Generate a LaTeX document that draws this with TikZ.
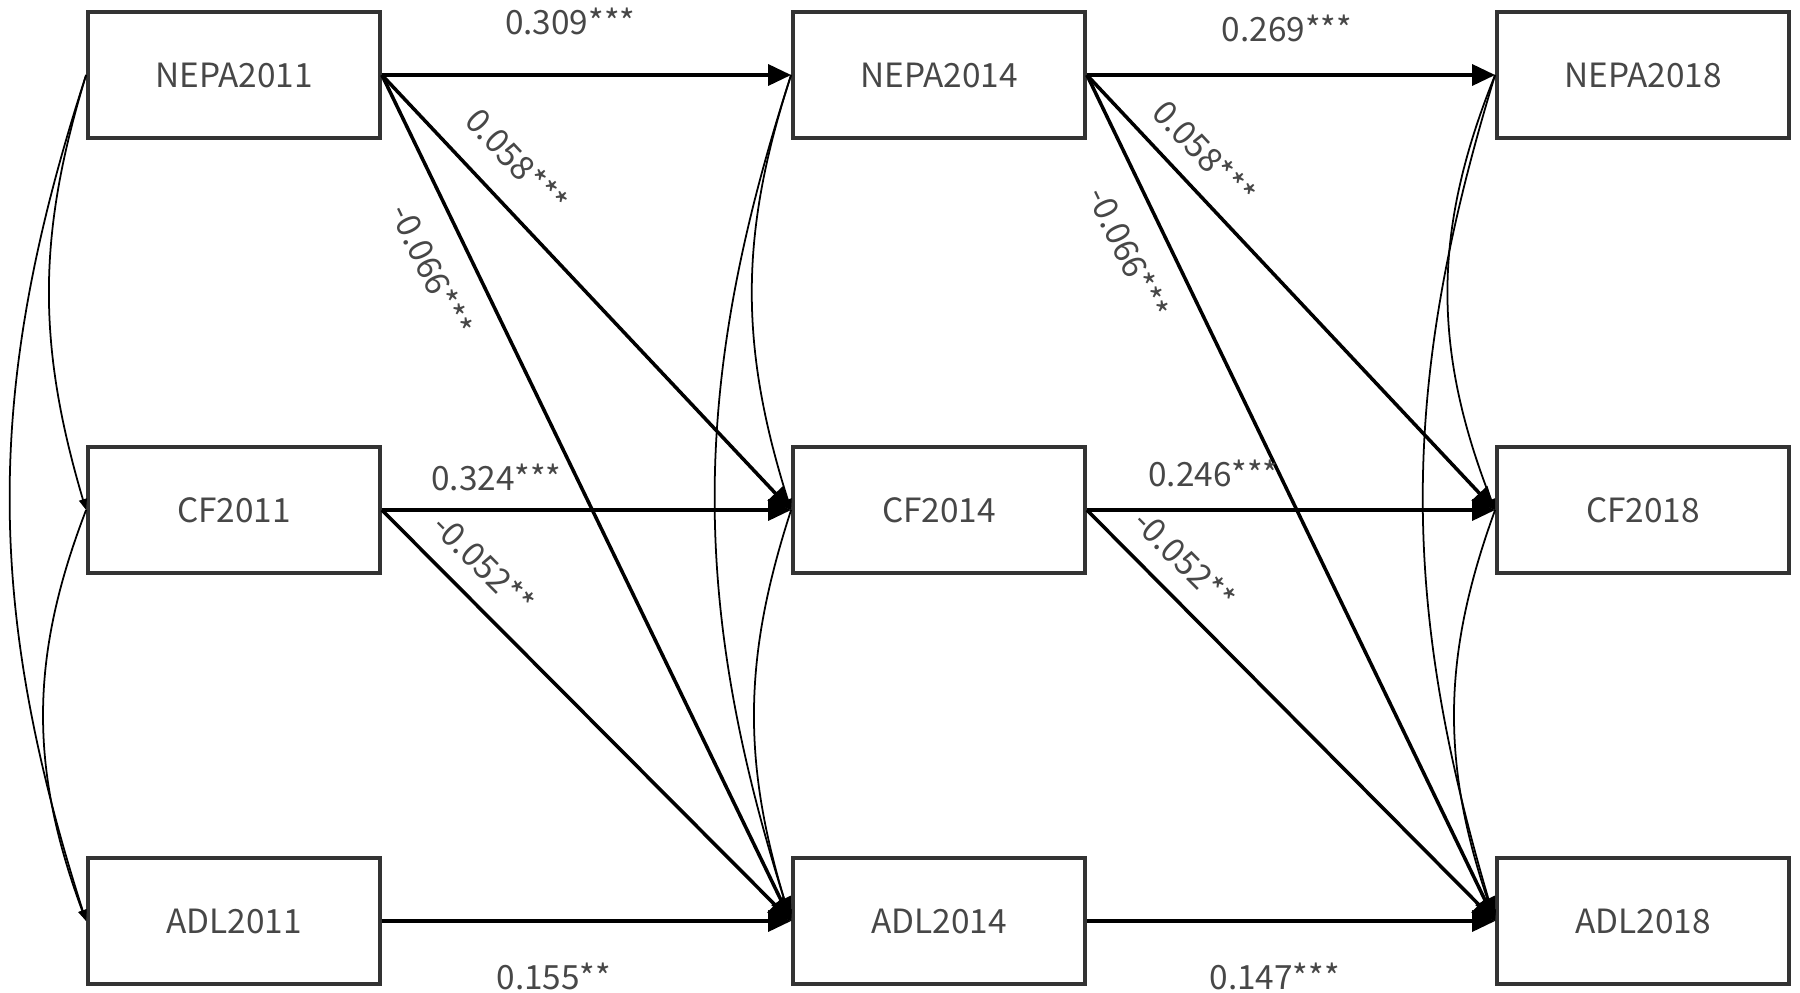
\documentclass[tikz,border=0pt]{standalone}
\usepackage{fontspec}
\setmainfont{Noto Sans CJK SC}
\usetikzlibrary{arrows.meta,bending}

\begin{document}
\begin{tikzpicture}[x=0.02cm, y=-0.02cm,
  var/.style={draw=black!80, line width=2.2pt, minimum width=5.84cm, minimum height=2.52cm, inner sep=0pt, text=black!72, font=\fontsize{19}{23}\selectfont},
  effect/.style={line width=2pt, -{Triangle[length=0.46cm, width=0.42cm]}},
  cov/.style={line width=1pt, -{Triangle[length=0.22cm, width=0.16cm]}},
  coef/.style={text=black!72, font=\fontsize{19}{23}\selectfont, inner sep=2pt}]

\useasboundingbox (0,0) rectangle (1800,993);

\node [var] (NEPA2011) at (234,75) {NEPA2011};
\node [var] (CF2011) at (234,510) {CF2011};
\node [var] (ADL2011) at (234,921) {ADL2011};
\node [var] (NEPA2014) at (939,75) {NEPA2014};
\node [var] (CF2014) at (939,510) {CF2014};
\node [var] (ADL2014) at (939,921) {ADL2014};
\node [var] (NEPA2018) at (1643,75) {NEPA2018};
\node [var] (CF2018) at (1643,510) {CF2018};
\node [var] (ADL2018) at (1643,921) {ADL2018};

\draw [cov] (NEPA2011.west) to [bend right=17] (CF2011.west);
\draw [cov] (NEPA2011.west) to [bend right=18] (ADL2011.west);
\draw [cov] (CF2011.west) to [bend right=21] (ADL2011.west);
\draw [cov] (NEPA2014.west) to [bend right=18] (CF2014.west);
\draw [cov] (NEPA2014.west) to [bend right=18] (ADL2014.west);
\draw [cov] (CF2014.west) to [bend right=18] (ADL2014.west);
\draw [cov] (NEPA2018.west) to [bend right=22] (CF2018.west);
\draw [cov] (NEPA2018.west) to [bend right=17] (ADL2018.west);
\draw [cov] (CF2018.west) to [bend right=20] (ADL2018.west);

\draw [effect] (NEPA2011.east) -- node [coef, pos=0.46, above=20pt] {0.309***} (NEPA2014.west);
\draw [effect] (NEPA2011.east) -- node [coef, pos=0.26, sloped, above=12pt] {0.058***} (CF2014.west);
\draw [effect] (NEPA2011.east) -- node [coef, pos=0.21, sloped, below=12pt] {-0.066***} (ADL2014.west);
\draw [effect] (CF2011.east) -- node [coef, pos=0.28, above=8pt] {0.324***} (CF2014.west);
\draw [effect] (CF2011.east) -- node [coef, pos=0.19, sloped, above=9pt] {-0.052**} (ADL2014.west);
\draw [effect] (ADL2011.east) -- node [coef, pos=0.42, below=21pt] {0.155**} (ADL2014.west);

\draw [effect] (NEPA2014.east) -- node [coef, pos=0.49, above=16pt] {0.269***} (NEPA2018.west);
\draw [effect] (NEPA2014.east) -- node [coef, pos=0.23, sloped, above=8pt] {0.058***} (CF2018.west);
\draw [effect] (NEPA2014.east) -- node [coef, pos=0.19, sloped, below=12pt] {-0.066***} (ADL2018.west);
\draw [effect] (CF2014.east) -- node [coef, pos=0.31, above=10pt] {0.246***} (CF2018.west);
\draw [effect] (CF2014.east) -- node [coef, pos=0.18, sloped, above=9pt] {-0.052**} (ADL2018.west);
\draw [effect] (ADL2014.east) -- node [coef, pos=0.46, below=21pt] {0.147***} (ADL2018.west);

\end{tikzpicture}
\end{document}
